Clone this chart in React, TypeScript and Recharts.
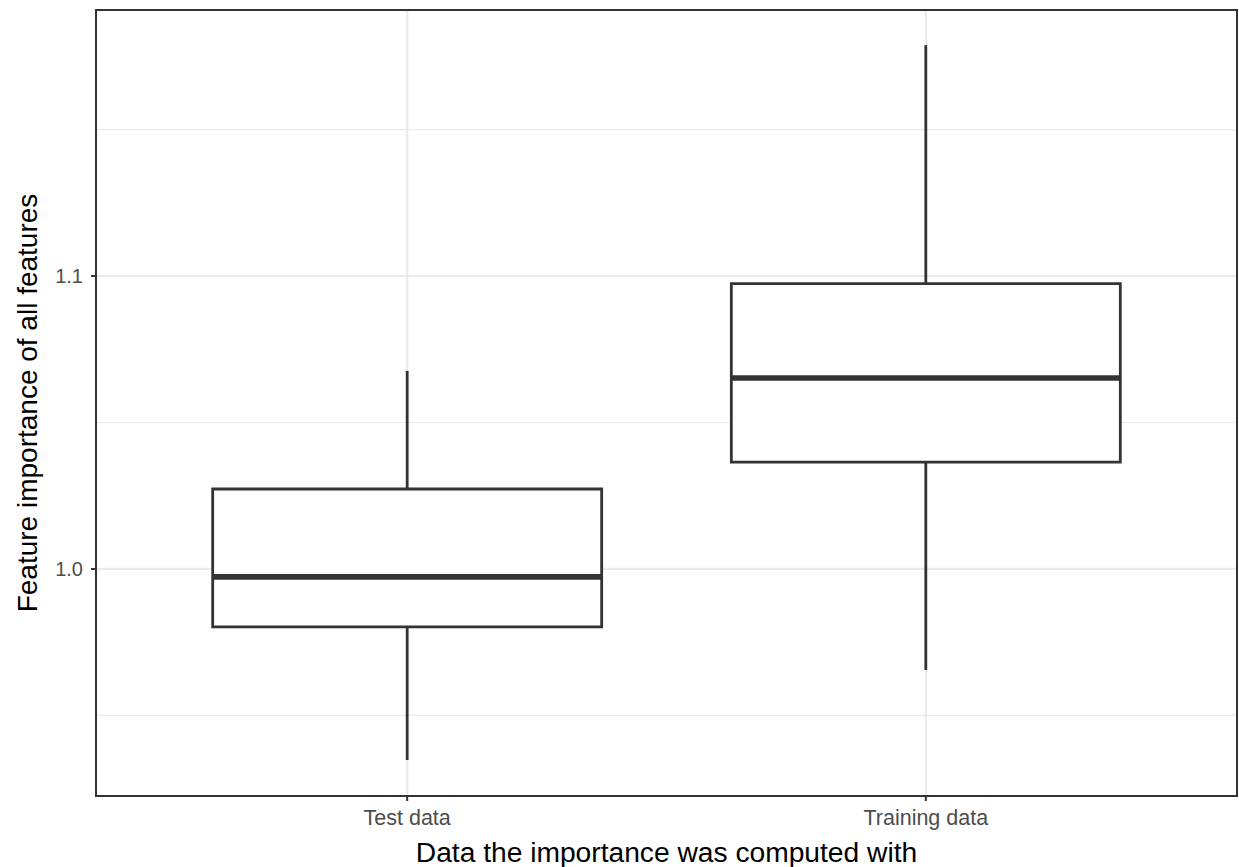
import React from 'react';
import {
  ComposedChart,
  Scatter,
  XAxis,
  YAxis,
  CartesianGrid,
  ReferenceArea,
  ReferenceLine,
} from 'recharts';

const categories = ['Test data', 'Training data'];
const lowerWhisker = [0.9348, 0.9655];
const q1 = [0.9802, 1.0365];
const median = [0.9973, 1.0652];
const q3 = [1.0273, 1.0974];
const upperWhisker = [1.0676, 1.1788];

const yTicks = [1.0, 1.1];
const yMinorTicks = [0.95, 1.05, 1.15];
const xTicks = [1, 2];

const Y_DOMAIN: [number, number] = [0.9225, 1.1908];
const X_DOMAIN: [number, number] = [0.4, 2.6];
const HALF_BOX = 0.375;

const INK = '#333333';
const GRID = '#EBEBEB';
const FONT = '"Liberation Sans", Arial, sans-serif';

const data = categories.map((name, i) => ({ x: i + 1, name, median: median[i] }));

const YTitle = () => {
  const cx = 27;
  const cy = 10 + 786 / 2;
  return (
    <text
      x={cx}
      y={cy}
      transform={`rotate(-90, ${cx}, ${cy})`}
      textAnchor="middle"
      dominantBaseline="central"
      fontSize={28}
      fontFamily={FONT}
      fill="#000"
    >
      Feature importance of all features
    </text>
  );
};

export default function App() {
  return (
    <div style={{ position: 'absolute', left: 0, top: 0, width: 1239, height: 867, background: '#fff' }}>
      <ComposedChart
        width={1239}
        height={867}
        data={data}
        margin={{ top: 10, right: 2, left: 0, bottom: 0 }}
        style={{ fontFamily: FONT }}
      >
        {/* minor grid, then major grid */}
        <CartesianGrid
          vertical={false}
          horizontalValues={yMinorTicks}
          stroke={GRID}
          strokeWidth={1.2}
        />
        <CartesianGrid
          horizontalValues={yTicks}
          verticalValues={xTicks}
          stroke={GRID}
          strokeWidth={2.2}
        />
        <XAxis
          dataKey="x"
          type="number"
          domain={X_DOMAIN}
          ticks={xTicks}
          allowDataOverflow
          height={71}
          axisLine={false}
          tickLine={{ stroke: INK, strokeWidth: 2 }}
          tickSize={5}
          tickMargin={9}
          tick={{ fontSize: 21.5, fill: '#4D4D4D', fontFamily: FONT }}
          tickFormatter={(v: number) => categories[v - 1]}
          label={{
            value: 'Data the importance was computed with',
            position: 'insideBottom',
            offset: 5,
            fontSize: 28.2,
            fill: '#000',
            fontFamily: FONT,
          }}
        />
        <YAxis
          type="number"
          domain={Y_DOMAIN}
          ticks={yTicks}
          allowDataOverflow
          width={96}
          axisLine={false}
          tickLine={{ stroke: INK, strokeWidth: 2 }}
          tickSize={5}
          tickMargin={8}
          tick={{ fontSize: 20, fill: '#4D4D4D', fontFamily: FONT }}
          tickFormatter={(v: number) => v.toFixed(1)}
          label={<YTitle />}
        />

        {categories.map((c, i) => (
          <ReferenceLine
            key={`wu${c}`}
            segment={[{ x: i + 1, y: q3[i] }, { x: i + 1, y: upperWhisker[i] }]}
            stroke={INK}
            strokeWidth={2.8}
          />
        ))}
        {categories.map((c, i) => (
          <ReferenceLine
            key={`wl${c}`}
            segment={[{ x: i + 1, y: lowerWhisker[i] }, { x: i + 1, y: q1[i] }]}
            stroke={INK}
            strokeWidth={2.8}
          />
        ))}
        {categories.map((c, i) => (
          <ReferenceArea
            key={`box${c}`}
            x1={i + 1 - HALF_BOX}
            x2={i + 1 + HALF_BOX}
            y1={q1[i]}
            y2={q3[i]}
            fill="#fff"
            fillOpacity={1}
            stroke={INK}
            strokeWidth={2.8}
          />
        ))}
        {categories.map((c, i) => (
          <ReferenceLine
            key={`med${c}`}
            segment={[{ x: i + 1 - HALF_BOX, y: median[i] }, { x: i + 1 + HALF_BOX, y: median[i] }]}
            stroke={INK}
            strokeWidth={5.6}
          />
        ))}

        <ReferenceArea
          x1={X_DOMAIN[0]}
          x2={X_DOMAIN[1]}
          y1={Y_DOMAIN[0]}
          y2={Y_DOMAIN[1]}
          fill="none"
          stroke={INK}
          strokeWidth={2}
        />

        <Scatter dataKey="median" isAnimationActive={false} shape={() => <g />} />
      </ComposedChart>
    </div>
  );
}
